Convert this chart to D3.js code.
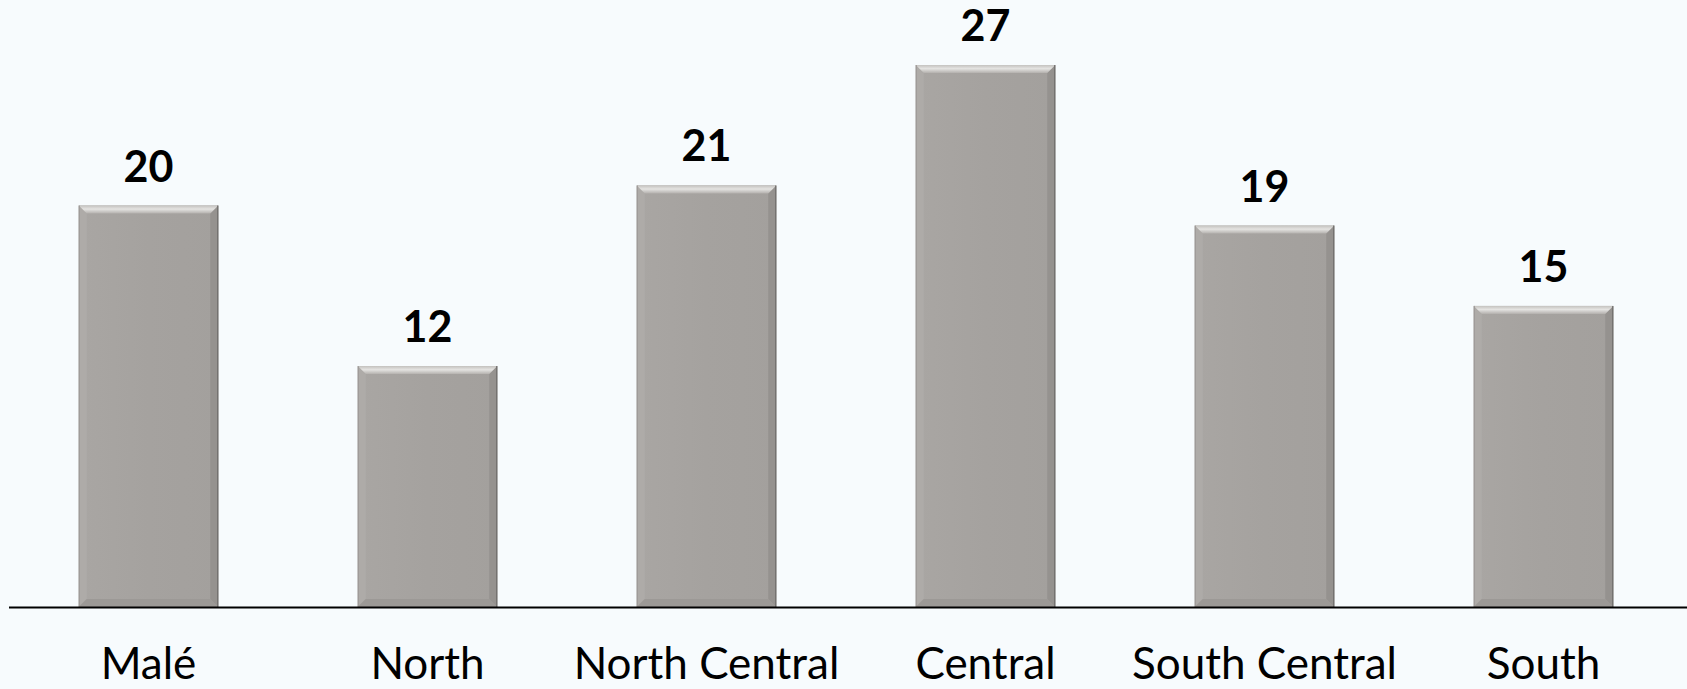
<!DOCTYPE html>
<html>
<head>
<meta charset="utf-8">
<script src="https://cdn.jsdelivr.net/npm/d3@7/dist/d3.min.js"></script>
<style>
  html, body { margin: 0; padding: 0; background: #F7FBFD; }
  svg { display: block; }
</style>
</head>
<body>
<svg id="chart" width="1687" height="689"></svg>
<script>
// Region names and their values
const regions = ["Malé", "North", "North Central", "Central", "South Central", "South"];
const counts = [20, 12, 21, 27, 19, 15];

const W = 1687, H = 689;
const baseY = 607;
const svg = d3.select("#chart");

svg.append("rect").attr("width", W).attr("height", H).attr("fill", "#F7FBFD");

const x = d3.scaleBand()
  .domain(regions)
  .range([9, 1683])
  .paddingInner(0.5)
  .paddingOuter(0.25);

const y = d3.scaleLinear()
  .domain([0, 27])
  .range([baseY, baseY - 542]);

const defs = svg.append("defs");
const topGrad = defs.append("linearGradient").attr("id", "bevelTop")
  .attr("x1", 0).attr("y1", 0).attr("x2", 0).attr("y2", 1);
topGrad.append("stop").attr("offset", 0).attr("stop-color", "#c4c2bf");
topGrad.append("stop").attr("offset", 0.45).attr("stop-color", "#e4e3e1");
topGrad.append("stop").attr("offset", 1).attr("stop-color", "#b4b1ae");

const bodyGrad = defs.append("linearGradient").attr("id", "bevelBody")
  .attr("x1", 0).attr("y1", 0).attr("x2", 1).attr("y2", 0);
bodyGrad.append("stop").attr("offset", 0).attr("stop-color", "#a9a6a3");
bodyGrad.append("stop").attr("offset", 0.5).attr("stop-color", "#a5a29f");
bodyGrad.append("stop").attr("offset", 1).attr("stop-color", "#a3a09d");

const bw = x.bandwidth();
const d = 8; // bevel depth

const bars = svg.append("g").selectAll("g")
  .data(regions.map((r, i) => ({ region: r, value: counts[i] })))
  .join("g");

// main face
bars.append("rect")
  .attr("x", dd => x(dd.region))
  .attr("y", dd => y(dd.value))
  .attr("width", bw)
  .attr("height", dd => baseY - y(dd.value))
  .attr("fill", "url(#bevelBody)");

// left edge
bars.append("path")
  .attr("d", dd => {
    const x0 = x(dd.region), t = y(dd.value);
    return `M${x0},${t} L${x0 + d},${t + d} L${x0 + d},${baseY - d} L${x0},${baseY} Z`;
  })
  .attr("fill", "#aeaba8");

// right edge
bars.append("path")
  .attr("d", dd => {
    const x1 = x(dd.region) + bw, t = y(dd.value);
    return `M${x1},${t} L${x1 - d},${t + d} L${x1 - d},${baseY - d} L${x1},${baseY} Z`;
  })
  .attr("fill", "#95928f");

// bottom edge
bars.append("path")
  .attr("d", dd => {
    const x0 = x(dd.region), x1 = x0 + bw;
    return `M${x0},${baseY} L${x0 + d},${baseY - d} L${x1 - d},${baseY - d} L${x1},${baseY} Z`;
  })
  .attr("fill", "#9c9996");

// top edge highlight
bars.append("path")
  .attr("d", dd => {
    const x0 = x(dd.region), x1 = x0 + bw, t = y(dd.value);
    return `M${x0},${t} L${x1},${t} L${x1 - d},${t + d} L${x0 + d},${t + d} Z`;
  })
  .attr("fill", "url(#bevelTop)");

// thin outer edge lines
bars.append("line")
  .attr("x1", dd => x(dd.region) + bw - 0.5)
  .attr("x2", dd => x(dd.region) + bw - 0.5)
  .attr("y1", dd => y(dd.value))
  .attr("y2", baseY)
  .attr("stroke", "#6f6d6b").attr("stroke-width", 1.2);
bars.append("line")
  .attr("x1", dd => x(dd.region) + 0.5)
  .attr("x2", dd => x(dd.region) + 0.5)
  .attr("y1", dd => y(dd.value))
  .attr("y2", baseY)
  .attr("stroke", "#9a9794").attr("stroke-width", 1);

// value labels
bars.append("text")
  .attr("x", dd => x(dd.region) + bw / 2)
  .attr("y", dd => y(dd.value) - 24)
  .attr("text-anchor", "middle")
  .attr("font-family", "Lato, 'Open Sans', sans-serif")
  .attr("font-weight", "bold")
  .attr("font-size", 43)
  .attr("fill", "#000")
  .text(dd => dd.value);

// baseline axis
const axis = d3.axisBottom(x).tickSize(0).tickPadding(0);
const ax = svg.append("g").attr("transform", `translate(0,${baseY})`).call(axis);
ax.select(".domain").remove();
ax.selectAll(".tick text").remove();
ax.append("line")
  .attr("x1", 9).attr("x2", 1687)
  .attr("y1", 0.5).attr("y2", 0.5)
  .attr("stroke", "#000").attr("stroke-width", 2);

// category labels
svg.append("g").selectAll("text")
  .data(regions)
  .join("text")
  .attr("x", r => x(r) + bw / 2)
  .attr("y", 679)
  .attr("text-anchor", "middle")
  .attr("font-family", "Lato, 'Open Sans', sans-serif")
  .attr("font-size", 44)
  .attr("fill", "#000")
  .text(r => r);
</script>
</body>
</html>
